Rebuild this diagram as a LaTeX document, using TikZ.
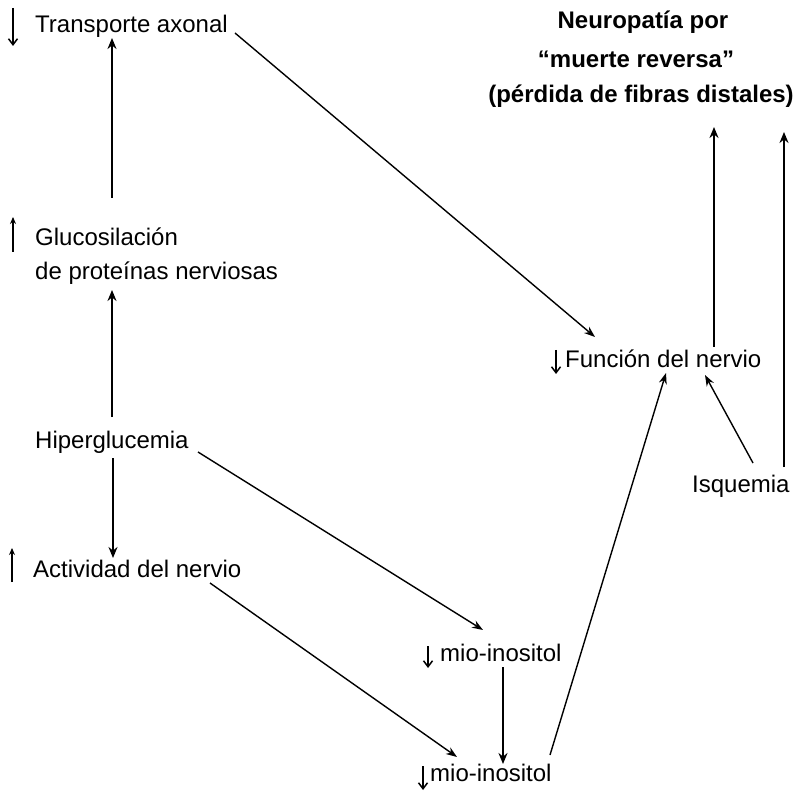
\documentclass[tikz,border=0pt]{standalone}
\usepackage{fontspec}
\setmainfont{Liberation Sans}
\usetikzlibrary{arrows.meta,calc}
\begin{document}
\begin{tikzpicture}[x=1pt,y=-1pt,
  lbl/.style={inner sep=0pt, anchor=base west, font=\fontsize{24}{28}\selectfont},
  ttl/.style={inner sep=0pt, anchor=base, font=\fontsize{24}{28}\selectfont\bfseries},
  conn/.style={line width=1.4pt, -{Stealth[length=11pt,width=8pt]}},
  vconn/.style={line width=1.8pt, -{Stealth[length=11pt,width=9pt]}},
  symdown/.style={line width=1.5pt, -{Straight Barb[length=6pt,width=9pt]}},
  symup/.style={line width=1.8pt, -{Stealth[length=7pt,width=6pt]}}]
\useasboundingbox (0,0) rectangle (801,794);
% labels
\node[lbl] (trans) at (35,33) {Transporte axonal};
\node[lbl] (gluc)  at (35,246) {Glucosilación};
\node[lbl] (prot)  at (35,280) {de proteínas nerviosas};
\node[lbl] (hiper) at (35,448) {Hiperglucemia};
\node[lbl] (activ) at (33,577) {Actividad del nervio};
\node[lbl] (func)  at (565,368) {Función del nervio};
\node[lbl] (isq)   at (692,492) {Isquemia};
\node[lbl] (mioa)  at (440,661) {mio-inositol};
\node[lbl] (miob)  at (430,781) {mio-inositol};
\node[ttl] (ta) at (643,29)  {Neuropatía por};
\node[ttl] (tb) at (636,68)  {“muerte reversa”};
\node[ttl] (tc) at (641,103) {(pérdida de fibras distales)};
% small up/down symbols
\draw[symdown] (13,8) -- (13,46);
\draw[symup] (13,252) -- (13,217);
\draw[symup] (12,582) -- (12,548);
\draw[symdown] (556,350) -- (556,374);
\draw[symdown] (428,646) -- (428,668);
\draw[symdown] (423,766) -- (423,790);
% connectors
\draw[vconn] ([shift={(77,-48)}]gluc.base west) -- ([shift={(77,5)}]trans.base west);
\draw[vconn] ([shift={(77,-31)}]hiper.base west) -- ([shift={(77,10)}]prot.base west);
\draw[vconn] ([shift={(78,10)}]hiper.base west) -- ([shift={(80,-19)}]activ.base west);
\draw[conn] ([shift={(163,4)}]hiper.base west) -- ([shift={(43,-31)}]mioa.base west);
\draw[conn] ([shift={(177,6)}]activ.base west) -- ([shift={(27,-24)}]miob.base west);
\draw[vconn] ([shift={(63,6)}]mioa.base west) -- ([shift={(73,-17)}]miob.base west);
\draw[conn] ([shift={(120,-26)}]miob.base west) -- ([shift={(101,5)}]func.base west);
\draw[conn] ([shift={(200,0)}]trans.base west) -- ([shift={(30,-31)}]func.base west);
\draw[vconn] ([shift={(149,-21)}]func.base west) -- ([shift={(73,24)}]tc.base);
\draw[conn] ([shift={(61,-29)}]isq.base west) -- ([shift={(140,7)}]func.base west);
\draw[vconn] ([shift={(92,-25)}]isq.base west) -- ([shift={(143,29)}]tc.base);
\end{tikzpicture}
\end{document}
